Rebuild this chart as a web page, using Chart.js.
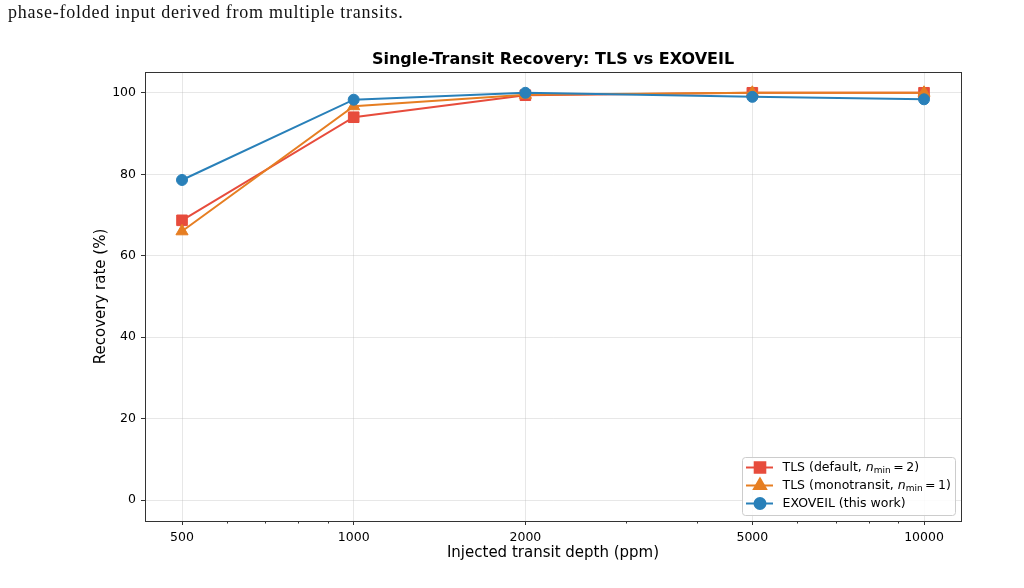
<!DOCTYPE html>
<html><head><meta charset="utf-8">
<script src="https://cdn.jsdelivr.net/npm/chart.js@4/dist/chart.umd.min.js"></script>
<style>
html,body{margin:0;padding:0;background:#fff;overflow:hidden}
#wrap{position:relative;width:1024px;height:588px}
#cap{position:absolute;left:8px;top:2px;font-family:"Liberation Serif","DejaVu Serif",serif;font-size:18px;letter-spacing:0.75px;color:#111;white-space:nowrap}
canvas{position:absolute;left:0;top:0}
</style></head><body>
<div id="wrap"><canvas id="c" width="1024" height="588"></canvas><div id="cap">phase-folded input derived from multiple transits.</div></div>
<script>
const depths = [500, 1000, 2000, 5000, 10000];
const tickLabels = ['500', '1000', '2000', '5000', '10000'];
const minorTicks = [600, 700, 800, 900, 3000, 4000, 6000, 7000, 8000, 9000];
const yTicks = [0, 20, 40, 60, 80, 100];
const tlsDefault = [68.7, 94.0, 99.4, 100, 100];
const tlsMono = [66.0, 96.7, 99.5, 100, 100];
const exoveil = [78.6, 98.3, 100, 99.0, 98.4];

const RED = '#e74c3c', ORANGE = '#e67e22', BLUE = '#2980b9';
const FONT = '"DejaVu Sans", sans-serif';

function pts(arr) { return depths.map((d, i) => ({x: d, y: arr[i]})); }

const legendItems = [
  {color: RED, style: 'rect', r: 7.5, parts: [{t: 'TLS (default, '}, {t: 'n', it: true}, {t: 'min', sub: true}, {t: '\u2009=\u20092)'}]},
  {color: ORANGE, style: 'triangle', r: 7, parts: [{t: 'TLS (monotransit, '}, {t: 'n', it: true}, {t: 'min', sub: true}, {t: '\u2009=\u20091)'}]},
  {color: BLUE, style: 'circle', r: 5.5, parts: [{t: 'EXOVEIL (this work)'}]}
];

const deco = {
  id: 'deco',
  afterDraw(chart) {
    const ctx = chart.ctx, a = chart.chartArea, xs = chart.scales.x;
    ctx.save();
    ctx.strokeStyle = '#333';
    ctx.lineWidth = 1;
    ctx.strokeRect(Math.round(a.left) + 0.5, Math.round(a.top) + 0.5, Math.round(a.right - a.left), Math.round(a.bottom - a.top));
    ctx.beginPath();
    minorTicks.forEach(v => {
      const px = Math.round(xs.getPixelForValue(v)) + 0.5;
      ctx.moveTo(px, a.bottom);
      ctx.lineTo(px, a.bottom + 2.5);
    });
    ctx.stroke();
    ctx.fillStyle = '#000';
    ctx.font = 'bold 16px ' + FONT;
    ctx.textAlign = 'center';
    ctx.textBaseline = 'middle';
    ctx.fillText('Single-Transit Recovery: TLS vs EXOVEIL', (a.left + a.right) / 2, 60);
    const bx = 742, by = 457, bw = 213, bh = 58;
    ctx.beginPath();
    if (ctx.roundRect) ctx.roundRect(bx + 0.5, by + 0.5, bw, bh, 3); else ctx.rect(bx + 0.5, by + 0.5, bw, bh);
    ctx.fillStyle = 'rgba(255,255,255,0.85)';
    ctx.fill();
    ctx.strokeStyle = '#cccccc';
    ctx.stroke();
    legendItems.forEach((it, i) => {
      const cy = by + 10.5 + i * 18;
      ctx.strokeStyle = it.color;
      ctx.lineWidth = 2;
      ctx.beginPath();
      ctx.moveTo(746, cy); ctx.lineTo(773, cy); ctx.stroke();
      ctx.fillStyle = it.color;
      Chart.helpers.drawPoint(ctx, {pointStyle: it.style, radius: it.r, borderWidth: 1}, 760, cy);
      ctx.fillStyle = '#000';
      ctx.textAlign = 'left';
      ctx.textBaseline = 'middle';
      let x = 782.5;
      it.parts.forEach(p => {
        if (p.sub) { ctx.font = '9px ' + FONT; ctx.fillText(p.t, x, cy + 3); }
        else if (p.it) { ctx.font = 'italic 12.5px ' + FONT; ctx.fillText(p.t, x, cy); }
        else { ctx.font = '12.5px ' + FONT; ctx.fillText(p.t, x, cy); }
        x += ctx.measureText(p.t).width;
      });
    });
    ctx.restore();
  }
};

function ds(label, arr, color, style, r, order) {
  return {label, data: pts(arr), borderColor: color, backgroundColor: color,
    pointBackgroundColor: color, pointBorderColor: color, borderWidth: 2,
    pointStyle: style, pointRadius: r, pointHoverRadius: r, pointBorderWidth: 1,
    tension: 0, fill: false, order};
}

new Chart(document.getElementById('c'), {
  type: 'line',
  data: {datasets: [
    ds('TLS (default, n_min = 2)', tlsDefault, RED, 'rect', 7.5, 3),
    ds('TLS (monotransit, n_min = 1)', tlsMono, ORANGE, 'triangle', 7, 2),
    ds('EXOVEIL (this work)', exoveil, BLUE, 'circle', 5.5, 1)
  ]},
  options: {
    responsive: false, animation: false, devicePixelRatio: 1,
    layout: {padding: {left: 80, right: 63, top: 72, bottom: 0}},
    plugins: {legend: {display: false}, title: {display: false}, tooltip: {enabled: false}},
    scales: {
      x: {
        type: 'logarithmic', min: 430.6, max: 11610,
        afterBuildTicks: s => { s.ticks = depths.map(v => ({value: v})); },
        afterFit: s => { s.height = 67; },
        ticks: {autoSkip: false, maxRotation: 0, color: '#000', font: {family: FONT, size: 12.5}, padding: 5,
          callback: v => { const i = depths.indexOf(v); return i >= 0 ? tickLabels[i] : ''; }},
        grid: {color: 'rgba(176,176,176,0.3)', tickColor: '#333', tickLength: 4, lineWidth: 1},
        border: {display: true, color: '#333'},
        title: {display: true, text: 'Injected transit depth (ppm)', color: '#000', font: {family: FONT, size: 15}, padding: {top: 0, bottom: 26}}
      },
      y: {
        type: 'linear', min: -5.1, max: 105.1,
        afterBuildTicks: s => { s.ticks = yTicks.map(v => ({value: v})); },
        afterFit: s => { s.width = 65; },
        ticks: {color: '#000', font: {family: FONT, size: 12.5}, padding: 5},
        grid: {color: 'rgba(176,176,176,0.3)', tickColor: '#333', tickLength: 4, lineWidth: 1},
        border: {display: true, color: '#333'},
        title: {display: true, text: 'Recovery rate (%)', color: '#000', font: {family: FONT, size: 15}, padding: {top: 12, bottom: 0}}
      }
    }
  },
  plugins: [deco]
});
</script>
</body></html>
